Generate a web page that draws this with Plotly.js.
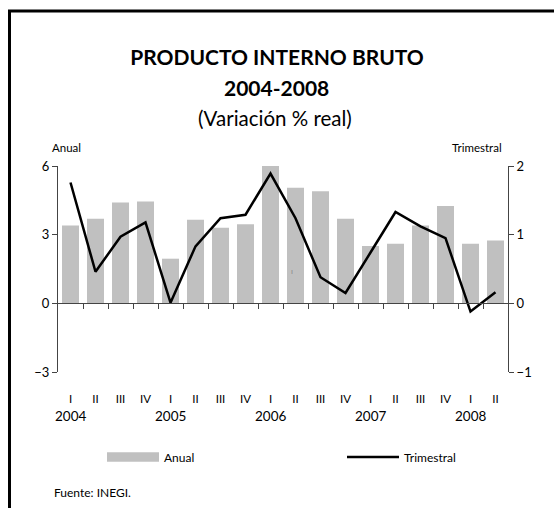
<!DOCTYPE html>
<html>
<head>
<meta charset="utf-8">
<script src="https://cdn.plot.ly/plotly-3.0.1.min.js"></script>
<style>
  html, body { margin: 0; padding: 0; background: #fff; }
  #chart { width: 554px; height: 508px; }
</style>
</head>
<body>
<div id="chart"></div>
<script>
// PIB 2004-2008, variacion % real (anual en barras, trimestral en linea)
var trimestres = ['I', 'II', 'III', 'IV', 'I', 'II', 'III', 'IV', 'I', 'II', 'III', 'IV',
                  'I', 'II', 'III', 'IV', 'I', 'II'];
var anios = ['2004', '2005', '2006', '2007', '2008'];
var anual = [3.4, 3.7, 4.4, 4.45, 1.95, 3.65, 3.3, 3.45, 6.0, 5.05, 4.9, 3.7,
             2.5, 2.6, 3.4, 4.25, 2.6, 2.75];
var trimestral = [1.76, 0.46, 0.97, 1.18, 0.01, 0.83, 1.24, 1.29, 1.89, 1.24, 0.38, 0.15,
                  0.74, 1.33, 1.12, 0.95, -0.12, 0.16];

var idx = trimestres.map(function (t, i) { return i; });
var limites = idx.slice(1).map(function (i) { return i - 0.5; });

var W = 554, H = 508;
var M = {l: 58, r: 46, t: 166, b: 136};
// pixel -> paper helpers for the decorations
function px(x) { return (x - M.l) / (W - M.l - M.r); }
function py(y) { return (H - M.b - y) / (H - M.t - M.b); }

var FONT = 'Lato, sans-serif';
var rangoAnual = [-3, 6];

var barras = {
    type: 'bar', x: idx, y: anual, xaxis: 'x', yaxis: 'y',
    name: 'Anual', legendgroup: 'a', showlegend: false,
    marker: {color: '#c0c0c0'}, hoverinfo: 'y'
};
// only used to get a wide grey swatch in the legend
var leyendaAnual = {
    type: 'scatter', mode: 'lines', x: [null], y: [null],
    name: 'Anual', legendgroup: 'a', legend: 'legend',
    line: {color: '#c0c0c0', width: 9.5}
};
var linea = {
    type: 'scatter', mode: 'lines', x: idx, y: trimestral, xaxis: 'x2', yaxis: 'y2',
    name: 'Trimestral', legend: 'legend2', line: {color: '#000', width: 2.5}
};

var annotations = [
    {text: '<b>2004-2008</b>', x: px(276), y: py(88), font: {size: 21}},
    {text: '(Variación % real)', x: px(275), y: py(118), font: {size: 20.5}},
    {text: 'Anual', x: px(50), y: py(147), xanchor: 'left', font: {size: 11.5}},
    {text: 'Trimestral', x: px(504), y: py(147), xanchor: 'right', font: {size: 11.5}},
    {text: 'Fuente: INEGI.', x: px(52), y: py(492), xanchor: 'left', font: {size: 12}},
    {text: 'ı', x: px(292), y: py(271), font: {size: 8, color: '#888'}}
];
anios.forEach(function (a, k) {
    annotations.push({text: a, x: 4 * k, xref: 'x', y: py(416), font: {size: 13.5}});
});
annotations.forEach(function (a) {
    if (!a.xref) a.xref = 'paper';
    a.yref = 'paper';
    a.showarrow = false;
    a.yanchor = 'middle';
});

function leyenda(xpx) {
    return {
        orientation: 'h', xref: 'container', yref: 'container',
        x: xpx / W, xanchor: 'left', y: 1 - 457 / H, yanchor: 'middle',
        itemwidth: 52, font: {size: 12}, bgcolor: 'rgba(0,0,0,0)'
    };
}

var layout = {
    width: W, height: H,
    margin: M,
    paper_bgcolor: '#fff', plot_bgcolor: '#fff',
    font: {family: FONT, color: '#000', size: 12},
    title: {
        text: '<b>PRODUCTO INTERNO BRUTO</b>',
        font: {size: 21, color: '#000'},
        x: 0.5, xref: 'container', xanchor: 'center',
        y: 1 - 58 / H, yref: 'container', yanchor: 'middle'
    },
    bargap: 0.32,
    showlegend: true,
    legend: leyenda(102),
    legend2: leyenda(342),
    xaxis: {
        range: [-0.5, 17.5], tickvals: idx, ticktext: trimestres,
        ticks: 'outside', ticklen: 16, tickcolor: 'rgba(0,0,0,0)',
        showline: false, zeroline: false, showgrid: false,
        tickfont: {size: 11.5}, fixedrange: true
    },
    xaxis2: {
        overlaying: 'x', anchor: 'free',
        position: (0 - rangoAnual[0]) / (rangoAnual[1] - rangoAnual[0]),
        range: [-0.5, 17.5], tickvals: limites, showticklabels: false,
        ticks: 'outside', ticklen: 5, tickcolor: '#444', tickwidth: 1,
        showline: true, linecolor: '#444', linewidth: 1,
        zeroline: false, showgrid: false
    },
    yaxis: {
        range: rangoAnual, tickvals: [-3, 0, 3, 6],
        ticks: 'outside', ticklen: 5, tickcolor: '#444',
        showline: true, linecolor: '#444', linewidth: 1,
        zeroline: false, showgrid: false, tickfont: {size: 13}
    },
    yaxis2: {
        overlaying: 'y', side: 'right', anchor: 'x',
        range: [-1, 2], tickvals: [-1, 0, 1, 2],
        ticks: 'outside', ticklen: 5, tickcolor: '#444',
        showline: true, linecolor: '#444', linewidth: 1,
        zeroline: false, showgrid: false, tickfont: {size: 13}
    },
    shapes: [{
        type: 'rect', xref: 'paper', yref: 'paper',
        x0: px(9.5), x1: px(600), y0: py(560), y1: py(11),
        line: {color: '#000', width: 3}
    }],
    annotations: annotations
};

Plotly.newPlot('chart', [barras, leyendaAnual, linea], layout, {displayModeBar: false, staticPlot: true});
</script>
</body>
</html>
